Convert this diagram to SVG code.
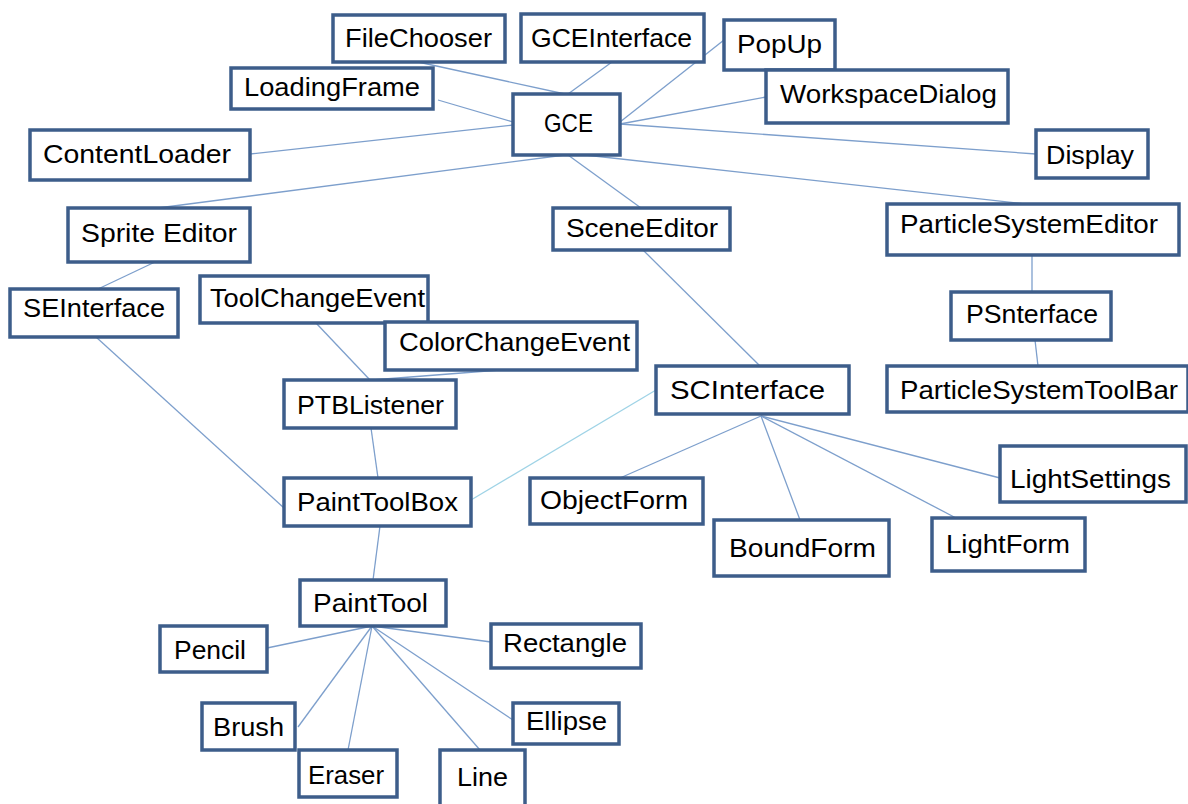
<svg xmlns="http://www.w3.org/2000/svg" width="1188" height="804" viewBox="0 0 1188 804">
<style>
.n rect{fill:#fff;stroke:#3d5d8a;stroke-width:3.5}
.n text{font-family:"Liberation Sans",Arial,sans-serif;font-size:26px;fill:#000}
#edges line{stroke:#7d9fcc;stroke-width:1.3}
#edges line.c{stroke:#9fd3e6}
</style>
<rect width="1188" height="804" fill="#fff"/>
<g id="edges">
<line x1="418" y1="62" x2="565" y2="94"/>
<line x1="612" y1="62" x2="568" y2="94"/>
<line x1="724" y1="40" x2="620" y2="122"/>
<line x1="766" y1="97" x2="620" y2="124"/>
<line x1="620" y1="124" x2="1036" y2="154"/>
<line x1="438" y1="100" x2="513" y2="122"/>
<line x1="250" y1="154" x2="513" y2="125"/>
<line x1="565" y1="155" x2="158" y2="208"/>
<line x1="568" y1="155" x2="641" y2="208"/>
<line x1="585" y1="155" x2="1025" y2="204"/>
<line x1="155" y1="262" x2="98" y2="289"/>
<line x1="96" y1="337" x2="284" y2="508"/>
<line x1="316" y1="323" x2="370" y2="380"/>
<line x1="500" y1="370" x2="372" y2="380"/>
<line x1="371" y1="428" x2="378" y2="478"/>
<line x1="643" y1="250" x2="760" y2="366"/>
<line class="c" x1="656" y1="390" x2="471" y2="500"/>
<line x1="1032" y1="255" x2="1032" y2="292"/>
<line x1="1035" y1="340" x2="1038" y2="366"/>
<line x1="761" y1="416" x2="620" y2="478"/>
<line x1="761" y1="416" x2="800" y2="520"/>
<line x1="761" y1="416" x2="956" y2="518"/>
<line x1="761" y1="416" x2="1000" y2="478"/>
<line x1="380" y1="526" x2="373" y2="580"/>
<line x1="372" y1="626" x2="267" y2="648"/>
<line x1="372" y1="626" x2="491" y2="642"/>
<line x1="372" y1="626" x2="298" y2="727"/>
<line x1="372" y1="626" x2="348" y2="750"/>
<line x1="372" y1="626" x2="480" y2="750"/>
<line x1="372" y1="626" x2="513" y2="720"/>
</g>
<g id="FileChooser" class="n"><rect x="333" y="15" width="172" height="47"/><text x="345" y="47" textLength="147" lengthAdjust="spacingAndGlyphs">FileChooser</text></g>
<g id="GCEInterface" class="n"><rect x="521" y="14" width="183" height="48"/><text x="531" y="47" textLength="161" lengthAdjust="spacingAndGlyphs">GCEInterface</text></g>
<g id="PopUp" class="n"><rect x="724" y="20" width="111" height="50"/><text x="737" y="53" textLength="85" lengthAdjust="spacingAndGlyphs">PopUp</text></g>
<g id="WorkspaceDialog" class="n"><rect x="766" y="70" width="242" height="53"/><text x="780" y="103" textLength="217" lengthAdjust="spacingAndGlyphs">WorkspaceDialog</text></g>
<g id="LoadingFrame" class="n"><rect x="231" y="68" width="202" height="41"/><text x="244" y="96" textLength="176" lengthAdjust="spacingAndGlyphs">LoadingFrame</text></g>
<g id="GCE" class="n"><rect x="513" y="94" width="107" height="61"/><text x="544" y="132" textLength="49" lengthAdjust="spacingAndGlyphs">GCE</text></g>
<g id="ContentLoader" class="n"><rect x="30" y="130" width="220" height="50"/><text x="43" y="163" textLength="188" lengthAdjust="spacingAndGlyphs">ContentLoader</text></g>
<g id="Display" class="n"><rect x="1036" y="130" width="112" height="48"/><text x="1046" y="164" textLength="88" lengthAdjust="spacingAndGlyphs">Display</text></g>
<g id="SpriteEditor" class="n"><rect x="68" y="208" width="182" height="54"/><text x="81" y="242" textLength="156" lengthAdjust="spacingAndGlyphs">Sprite Editor</text></g>
<g id="SceneEditor" class="n"><rect x="553" y="208" width="177" height="42"/><text x="566" y="237" textLength="152" lengthAdjust="spacingAndGlyphs">SceneEditor</text></g>
<g id="ParticleSystemEditor" class="n"><rect x="887" y="204" width="292" height="51"/><text x="900" y="233" textLength="258" lengthAdjust="spacingAndGlyphs">ParticleSystemEditor</text></g>
<g id="SEInterface" class="n"><rect x="10" y="289" width="168" height="48"/><text x="23" y="317" textLength="142" lengthAdjust="spacingAndGlyphs">SEInterface</text></g>
<g id="ToolChangeEvent" class="n"><rect x="200" y="276" width="228" height="47"/><text x="210" y="307" textLength="215" lengthAdjust="spacingAndGlyphs">ToolChangeEvent</text></g>
<g id="ColorChangeEvent" class="n"><rect x="385" y="322" width="252" height="48"/><text x="399" y="351" textLength="231" lengthAdjust="spacingAndGlyphs">ColorChangeEvent</text></g>
<g id="PTBListener" class="n"><rect x="284" y="380" width="172" height="48"/><text x="297" y="414" textLength="147" lengthAdjust="spacingAndGlyphs">PTBListener</text></g>
<g id="PSnterface" class="n"><rect x="951" y="292" width="160" height="48"/><text x="966" y="323" textLength="132" lengthAdjust="spacingAndGlyphs">PSnterface</text></g>
<g id="ParticleSystemToolBar" class="n"><rect x="887" y="366" width="301" height="46"/><text x="900" y="399" textLength="278" lengthAdjust="spacingAndGlyphs">ParticleSystemToolBar</text></g>
<g id="SCInterface" class="n"><rect x="656" y="366" width="193" height="48"/><text x="670" y="399" textLength="155" lengthAdjust="spacingAndGlyphs">SCInterface</text></g>
<g id="PaintToolBox" class="n"><rect x="284" y="478" width="187" height="48"/><text x="297" y="511" textLength="161" lengthAdjust="spacingAndGlyphs">PaintToolBox</text></g>
<g id="ObjectForm" class="n"><rect x="530" y="478" width="173" height="46"/><text x="540" y="509" textLength="148" lengthAdjust="spacingAndGlyphs">ObjectForm</text></g>
<g id="BoundForm" class="n"><rect x="714" y="520" width="175" height="56"/><text x="729" y="557" textLength="147" lengthAdjust="spacingAndGlyphs">BoundForm</text></g>
<g id="LightSettings" class="n"><rect x="1000" y="446" width="186" height="56"/><text x="1010" y="488" textLength="161" lengthAdjust="spacingAndGlyphs">LightSettings</text></g>
<g id="LightForm" class="n"><rect x="932" y="518" width="153" height="53"/><text x="946" y="553" textLength="124" lengthAdjust="spacingAndGlyphs">LightForm</text></g>
<g id="PaintTool" class="n"><rect x="300" y="580" width="146" height="46"/><text x="313" y="612" textLength="115" lengthAdjust="spacingAndGlyphs">PaintTool</text></g>
<g id="Pencil" class="n"><rect x="160" y="626" width="107" height="46"/><text x="174" y="659" textLength="72" lengthAdjust="spacingAndGlyphs">Pencil</text></g>
<g id="Rectangle" class="n"><rect x="491" y="624" width="150" height="44"/><text x="503" y="652" textLength="124" lengthAdjust="spacingAndGlyphs">Rectangle</text></g>
<g id="Brush" class="n"><rect x="202" y="703" width="93" height="47"/><text x="213" y="736" textLength="71" lengthAdjust="spacingAndGlyphs">Brush</text></g>
<g id="Ellipse" class="n"><rect x="513" y="703" width="106" height="41"/><text x="526" y="730" textLength="81" lengthAdjust="spacingAndGlyphs">Ellipse</text></g>
<g id="Eraser" class="n"><rect x="299" y="750" width="98" height="47"/><text x="308" y="784" textLength="76" lengthAdjust="spacingAndGlyphs">Eraser</text></g>
<g id="Line" class="n"><rect x="440" y="750" width="85" height="60"/><text x="457" y="786" textLength="51" lengthAdjust="spacingAndGlyphs">Line</text></g>
</svg>
